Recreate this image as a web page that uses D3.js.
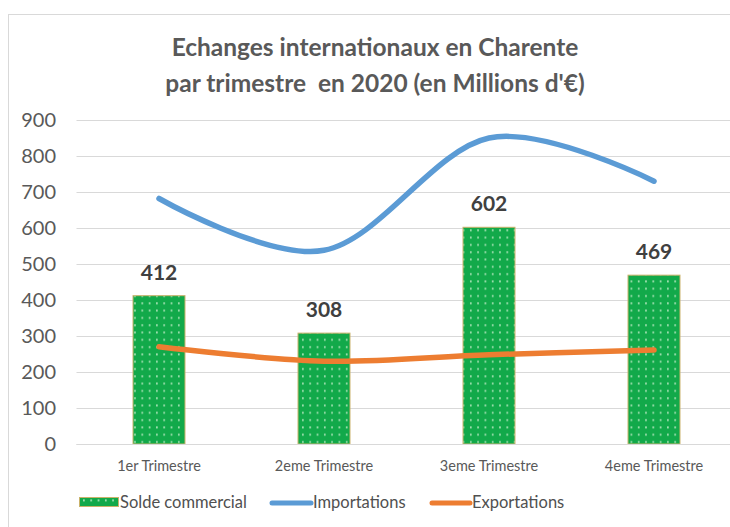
<!DOCTYPE html>
<html>
<head>
<meta charset="utf-8">
<script src="https://cdn.jsdelivr.net/npm/d3@7"></script>
<style>
  body { margin: 0; background: #fff; }
  svg { font-family: Lato, "Open Sans", sans-serif; }
</style>
</head>
<body>
<svg id="chart"></svg>
<script>
// Data
const quarters = ['1er Trimestre', '2eme Trimestre', '3eme Trimestre', '4eme Trimestre'];
const solde = [412, 308, 602, 469];
const importations = [682, 538, 850, 730];
const exportations = [270, 230, 248, 261];
const yTicks = [0, 100, 200, 300, 400, 500, 600, 700, 800, 900];

const width = 730, height = 527;
const margin = { top: 120, bottom: 444, left: 76.5, right: 736.5 };

const svg = d3.select('#chart')
    .attr('width', width)
    .attr('height', height);

// Chart frame (cropped on the right and bottom)
svg.append('rect')
    .attr('x', 8.5).attr('y', 14.5)
    .attr('width', 760).attr('height', 560)
    .attr('fill', '#fff')
    .attr('stroke', '#d9d9d9');

// Title
const title = svg.append('text')
    .attr('text-anchor', 'middle')
    .attr('font-size', '24.5px')
    .attr('font-weight', 'bold')
    .attr('fill', '#595959')
    .style('white-space', 'pre');
title.append('tspan').attr('x', 375).attr('y', 56).text('Echanges internationaux en Charente');
title.append('tspan').attr('x', 375).attr('y', 92).text('par trimestre  en 2020 (en Millions d\'€)');

// Scales
const x = d3.scaleBand()
    .domain(quarters)
    .range([margin.left, margin.right])
    .padding(0);

const y = d3.scaleLinear()
    .domain([0, 900])
    .range([margin.bottom, margin.top]);

// Gridlines
svg.append('g')
    .selectAll('line')
    .data(yTicks)
    .join('line')
    .attr('x1', margin.left)
    .attr('x2', width)
    .attr('y1', d => Math.round(y(d)) + 0.5)
    .attr('y2', d => Math.round(y(d)) + 0.5)
    .attr('stroke', '#d9d9d9')
    .attr('stroke-width', 1);

// Y axis labels
const yAxis = d3.axisLeft(y)
    .tickValues(yTicks)
    .tickSize(0)
    .tickPadding(0);
const yAxisG = svg.append('g')
    .attr('transform', 'translate(56,0)')
    .call(yAxis);
yAxisG.select('.domain').remove();
yAxisG.selectAll('text')
    .attr('font-family', 'Lato, "Open Sans", sans-serif')
    .attr('font-size', '20px')
    .attr('fill', '#595959');

// X axis labels
const xAxis = d3.axisBottom(x).tickSize(0).tickPadding(0);
const xAxisG = svg.append('g')
    .attr('transform', 'translate(0,461)')
    .call(xAxis);
xAxisG.select('.domain').remove();
xAxisG.selectAll('text')
    .attr('font-family', 'Lato, "Open Sans", sans-serif')
    .attr('font-size', '14.5px')
    .attr('fill', '#595959');

// Dotted green fill pattern
const defs = svg.append('defs');
const pat = defs.append('pattern')
    .attr('id', 'dots')
    .attr('patternUnits', 'userSpaceOnUse')
    .attr('width', 7.3).attr('height', 7.3);
pat.append('rect').attr('width', 7.3).attr('height', 7.3).attr('fill', '#12a94a');
pat.append('rect').attr('x', 3).attr('y', 3).attr('width', 1.2).attr('height', 2)
    .attr('fill', '#d8f5d8');

// Bars
const barW = x.bandwidth() * 0.315;
svg.append('g')
    .selectAll('rect')
    .data(quarters)
    .join('rect')
    .attr('x', d => x(d) + (x.bandwidth() - barW) / 2)
    .attr('y', (d, i) => y(solde[i]))
    .attr('width', barW)
    .attr('height', (d, i) => y(0) - y(solde[i]))
    .attr('fill', 'url(#dots)')
    .attr('stroke', '#c9b26a')
    .attr('stroke-width', 1);

// Baseline
svg.append('line')
    .attr('x1', margin.left).attr('x2', width)
    .attr('y1', Math.round(y(0)) + 0.5).attr('y2', Math.round(y(0)) + 0.5)
    .attr('stroke', '#d9d9d9');

// Smoothed lines
const lineGen = d3.line()
    .x((d, i) => x(quarters[i]) + x.bandwidth() / 2)
    .y(d => y(d))
    .curve(d3.curveCardinal.tension(0));

svg.append('path')
    .datum(importations)
    .attr('d', lineGen)
    .attr('fill', 'none')
    .attr('stroke', '#5b9bd5')
    .attr('stroke-width', 5.5)
    .attr('stroke-linecap', 'round');

svg.append('path')
    .datum(exportations)
    .attr('d', lineGen)
    .attr('fill', 'none')
    .attr('stroke', '#ed7d31')
    .attr('stroke-width', 5.5)
    .attr('stroke-linecap', 'round');

// Data labels on bars
svg.append('g')
    .selectAll('text')
    .data(quarters)
    .join('text')
    .attr('x', d => x(d) + x.bandwidth() / 2)
    .attr('y', (d, i) => y(solde[i]) - 16)
    .attr('text-anchor', 'middle')
    .attr('font-size', '21px')
    .attr('font-weight', 'bold')
    .attr('fill', '#404040')
    .text((d, i) => solde[i]);

// Legend
const legend = svg.append('g').attr('font-size', '16.5px').attr('fill', '#505050');
legend.append('rect')
    .attr('x', 79.5).attr('y', 497.5).attr('width', 39).attr('height', 9)
    .attr('fill', 'url(#dots)').attr('stroke', '#c9b26a');
legend.append('text').attr('x', 120).attr('y', 508).text('Solde commercial');

legend.append('line')
    .attr('x1', 272).attr('x2', 311).attr('y1', 503).attr('y2', 503)
    .attr('stroke', '#5b9bd5').attr('stroke-width', 5).attr('stroke-linecap', 'round');
legend.append('text').attr('x', 313).attr('y', 508).text('Importations');

legend.append('line')
    .attr('x1', 432).attr('x2', 470).attr('y1', 503).attr('y2', 503)
    .attr('stroke', '#ed7d31').attr('stroke-width', 5).attr('stroke-linecap', 'round');
legend.append('text').attr('x', 472).attr('y', 508).text('Exportations');
</script>
</body>
</html>
